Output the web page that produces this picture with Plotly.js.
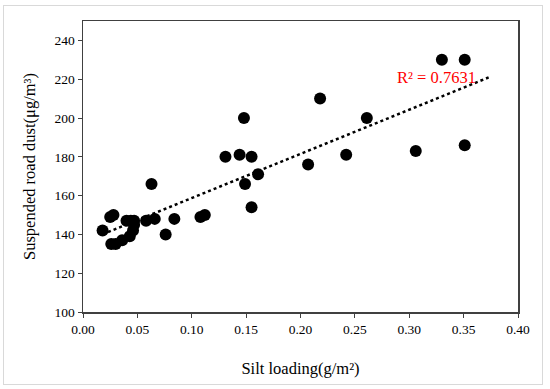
<!DOCTYPE html>
<html>
<head>
<meta charset="utf-8">
<script src="https://cdn.plot.ly/plotly-3.0.1.min.js"></script>
<style>
  html, body { margin: 0; padding: 0; background: #fff; }
  #wrap { position: relative; width: 550px; height: 389px; }
  #chart { width: 550px; height: 389px; }
  #frame { position: absolute; left: 3px; top: 5px; width: 540px; height: 380px;
           border: 1px solid #d9d9d9; pointer-events: none; box-sizing: border-box; }
</style>
</head>
<body>
<div id="wrap">
  <div id="chart"></div>
  <div id="frame"></div>
</div>
<script>
// Silt loading (g/m²)
const siltLoading = [0.018, 0.025, 0.028, 0.026, 0.030, 0.036, 0.040, 0.044, 0.047, 0.043,
                     0.046, 0.047, 0.058, 0.063, 0.066, 0.076, 0.084, 0.108, 0.112, 0.131,
                     0.144, 0.148, 0.149, 0.155, 0.155, 0.161, 0.207, 0.218, 0.242, 0.261,
                     0.306, 0.330, 0.351, 0.351];
// Suspended road dust (μg/m³)
const roadDust = [142, 149, 150, 135, 135, 137, 147, 147, 147, 139,
                  142, 145, 147, 166, 148, 140, 148, 149, 150, 180,
                  181, 200, 166, 180, 154, 171, 176, 210, 181, 200,
                  183, 230, 230, 186];
// Linear trendline endpoints
const trendX = [0.023, 0.373];
const trendY = [141.2, 220.9];
const r2Label = "R² = 0.7631";
const xTicks = [0, 0.05, 0.10, 0.15, 0.20, 0.25, 0.30, 0.35, 0.40];
const xTickText = ["0.00", "0.05", "0.10", "0.15", "0.20", "0.25", "0.30", "0.35", "0.40"];
const yTicks = [100, 120, 140, 160, 180, 200, 220, 240];

const serif = "Liberation Serif, Times New Roman, serif";

const data = [
  {
    x: siltLoading, y: roadDust, type: "scatter", mode: "markers",
    marker: { color: "#000", size: 12 },
    hoverinfo: "skip"
  },
  {
    x: trendX, y: trendY, type: "scatter", mode: "lines",
    line: { color: "#000", width: 2.5, dash: "dot" },
    hoverinfo: "skip"
  }
];

const axisCommon = {
  showgrid: false, zeroline: false,
  showline: true, linecolor: "#404040", linewidth: 1.5, mirror: true,
  ticks: "outside", ticklen: 4, tickwidth: 1, tickcolor: "#404040",
  tickfont: { family: serif, size: 13.5, color: "#000" }
};

const layout = {
  width: 550, height: 389,
  margin: { l: 83, r: 32, t: 21, b: 77 },
  paper_bgcolor: "#fff", plot_bgcolor: "#fff",
  showlegend: false,
  xaxis: Object.assign({}, axisCommon, {
    range: [0, 0.40], tickvals: xTicks, ticktext: xTickText,
    title: { text: "Silt loading(g/m²)", font: { family: serif, size: 16.5, color: "#000" }, standoff: 26 }
  }),
  yaxis: Object.assign({}, axisCommon, {
    range: [100, 250], tickvals: yTicks,
    title: { text: "Suspended road dust(μg/m³)", font: { family: serif, size: 16.5, color: "#000" }, standoff: 15 }
  }),
  annotations: [{
    x: 0.325, y: 221, xref: "x", yref: "y", text: r2Label, showarrow: false,
    font: { family: serif, size: 16.5, color: "#ff0000" }
  }]
};

Plotly.newPlot("chart", data, layout, { staticPlot: true, displayModeBar: false });
</script>
</body>
</html>
